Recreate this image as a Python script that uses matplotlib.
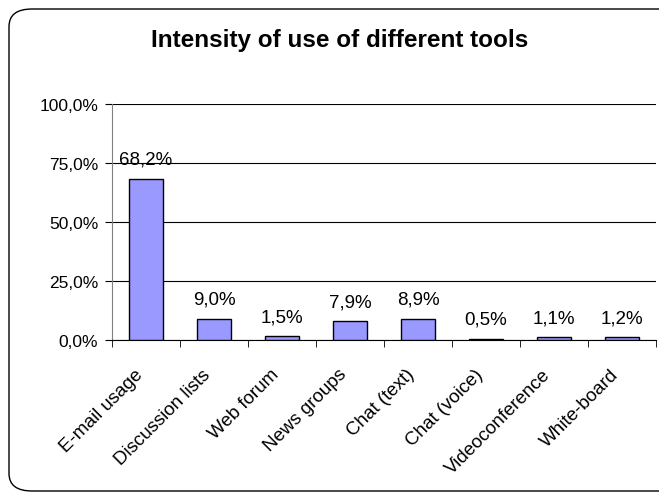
import matplotlib
matplotlib.use("Agg")
import matplotlib.pyplot as plt
from matplotlib.patches import FancyBboxPatch
from matplotlib.ticker import FixedLocator, NullFormatter

plt.rcParams['font.family'] = ['Liberation Sans', 'DejaVu Sans']

categories = ["E-mail usage", "Discussion lists", "Web forum", "News groups",
              "Chat (text)", "Chat (voice)", "Videoconference", "White-board"]
values = [68.2, 9.0, 1.5, 7.9, 8.9, 0.5, 1.1, 1.2]
value_labels = ["68,2%", "9,0%", "1,5%", "7,9%", "8,9%", "0,5%", "1,1%", "1,2%"]
y_ticks = [0, 25, 50, 75, 100]
y_tick_labels = ["0,0%", "25,0%", "50,0%", "75,0%", "100,0%"]
title = "Intensity of use of different tools"

W, H = 659, 502
fig = plt.figure(figsize=(W / 100, H / 100), dpi=100)

# rounded chart-area border
frame = FancyBboxPatch((9 / W, 10 / H), (W + 20) / W, (H - 20) / H,
                       boxstyle="round,pad=0,rounding_size=0.035",
                       transform=fig.transFigure, facecolor="none",
                       edgecolor="black", linewidth=1.0, zorder=-1)
fig.patches.append(frame)

left, right = 112 / W, 656 / W
bottom, top = 1 - 341 / H, 1 - 105 / H
ax = fig.add_axes([left, bottom, right - left, top - bottom])
ax.set_facecolor("none")

x = list(range(len(categories)))
ax.bar(x, values, width=0.5, color="#9999FF", edgecolor="black",
       linewidth=1.0, zorder=3)

for xi, v, lab in zip(x, values, value_labels):
    ax.annotate(lab, (xi, v), xytext=(0, 8), textcoords="offset points",
                ha="center", va="bottom", fontsize=13.5)

ax.set_xlim(-0.5, len(categories) - 0.5)
ax.set_ylim(0, 100)
ax.set_yticks(y_ticks)
ax.set_yticklabels(y_tick_labels, fontsize=12.5)
ax.yaxis.grid(True, color="black", linewidth=0.8, zorder=0)

# category labels centred under bars, ticks on boundaries
ax.set_xticks(x)
ax.set_xticklabels(categories, rotation=45, ha="right", rotation_mode="anchor",
                   va="bottom", fontsize=13.5)
ax.tick_params(axis="x", which="major", length=0, pad=27)
ax.xaxis.set_minor_locator(FixedLocator([i - 0.5 for i in range(len(categories) + 1)]))
ax.xaxis.set_minor_formatter(NullFormatter())
ax.tick_params(axis="x", which="minor", length=5, direction="out", color="black")
ax.tick_params(axis="y", length=5, direction="out", color="black", pad=5)

for side in ("top", "right"):
    ax.spines[side].set_visible(False)
ax.spines["left"].set_color("#808080")
ax.spines["bottom"].set_color("black")

fig.text(340 / W, 1 - 40 / H, title, ha="center", va="center",
         fontsize=17.5, fontweight="bold")

fig.savefig("out.png", dpi=100)
